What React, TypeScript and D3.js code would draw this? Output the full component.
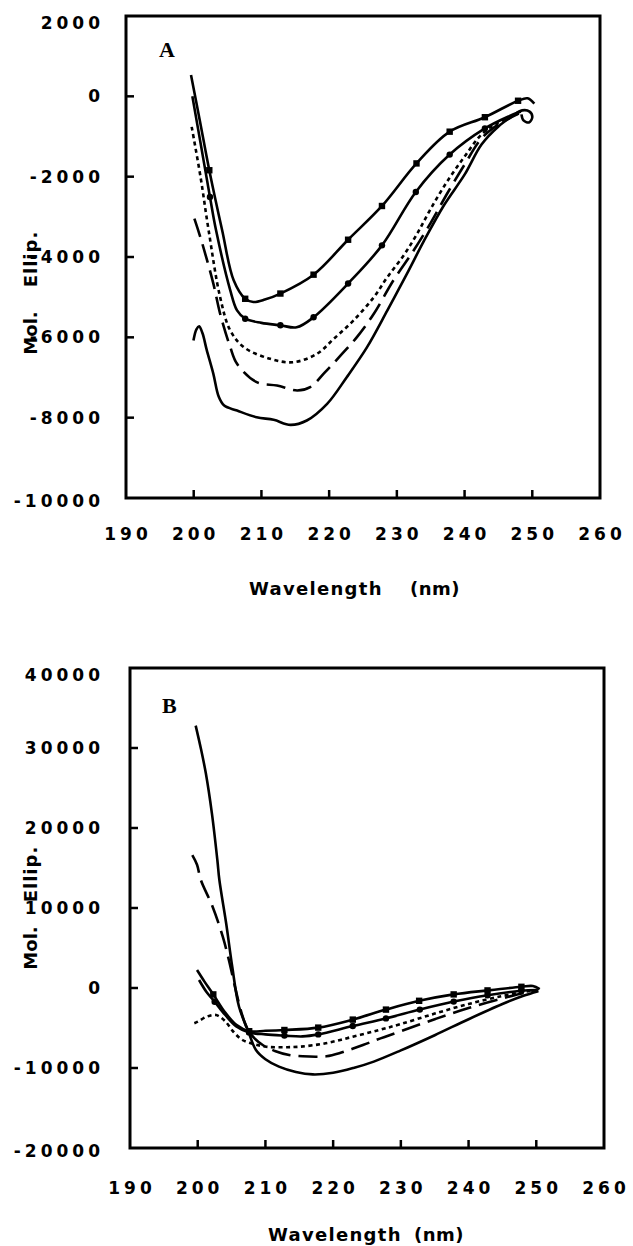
import React from "react";
import * as d3 from "d3";

// ---------- data ----------
const xTicks = [190, 200, 210, 220, 230, 240, 250, 260];
const yTicksA = [2000, 0, -2000, -4000, -6000, -8000, -10000];
const yTicksB = [40000, 30000, 20000, 10000, 0, -10000, -20000];

// [wavelength, mol. ellipticity, marker]
const aSquare: number[][] = [
  [199.6, 530, 0], [200.9, -600, 0], [202.3, -1840, 1], [204.2, -3335, 0], [205.9, -4580, 0],
  [207.6, -5040, 1], [208.8, -5120, 0], [210.5, -5060, 0], [212.8, -4910, 1], [217.7, -4440, 1],
  [222.8, -3570, 1], [227.8, -2730, 1], [232.9, -1670, 1], [237.8, -880, 1], [243, -520, 1],
  [247.9, -110, 1], [249.3, -50, 0], [250.3, -180, 0],
];
const aCircle: number[][] = [
  [199.8, 0, 0], [201.1, -1250, 0], [202.4, -2505, 1], [203.3, -3335, 0], [205.4, -4830, 0],
  [206.4, -5330, 0], [207.6, -5536, 1], [210, -5640, 0], [212.8, -5700, 1], [215.2, -5750, 0],
  [217.7, -5500, 1], [222.8, -4660, 1], [227.8, -3710, 1], [232.8, -2380, 1], [237.8, -1450, 1],
  [243, -800, 1], [246.5, -500, 0], [248.3, -380, 0],
];
const aDotted: number[][] = [
  [199.7, -760], [201, -2000], [202.2, -3335], [203.9, -5000], [205.4, -5830], [207.4, -6245],
  [211.3, -6535], [214.7, -6620], [218.2, -6410], [220.7, -6035], [223.6, -5580], [226.6, -5000],
  [228.6, -4500], [231, -3960], [233, -3420], [235, -2800], [237.5, -2100], [240, -1500],
  [242.5, -950], [245, -650], [248, -420],
];
const aDashed: number[][] = [
  [200.1, -3045], [201.2, -3627], [202.9, -4663], [203.9, -5412], [205.4, -6245], [206.4, -6660],
  [209.3, -7117], [212.3, -7200], [215.3, -7324], [217.2, -7240], [219.4, -6868], [221.7, -6450],
  [224.1, -5995], [226.6, -5412], [229.5, -4580], [232.5, -3834], [235, -3150], [237.5, -2400],
  [240, -1700], [242.5, -1050], [245, -700], [248, -430],
];
const aSolid: number[][] = [
  [199.96, -6080], [200.4, -5800], [200.8, -5728], [201.3, -5900], [201.9, -6300], [202.9, -6910],
  [203.7, -7480], [204.5, -7700], [206.4, -7823], [209.3, -7990], [211.8, -8054], [214.3, -8180],
  [216.7, -8070], [219.7, -7656], [222.6, -6992], [225.6, -6245], [228.6, -5330], [231.5, -4415],
  [234, -3600], [237, -2700], [240, -1950], [242.5, -1200], [245, -750], [247, -500],
  [248.5, -350], [249.6, -380], [250, -520], [249.5, -650], [248.7, -600], [248.4, -450],
];

const bSquare: number[][] = [
  [199.9, 2250, 0], [201, 800, 0], [202.3, -800, 1], [204, -3000, 0], [205.7, -4600, 0],
  [207.6, -5400, 1], [210, -5350, 0], [212.8, -5250, 1], [217.8, -4950, 1], [222.9, -3950, 1],
  [227.8, -2700, 1], [232.7, -1600, 1], [237.8, -800, 1], [242.8, -300, 1], [247.8, 150, 1],
  [249.5, 250, 0], [250.5, -150, 0],
];
const bCircle: number[][] = [
  [200.2, 1000, 0], [201.3, -500, 0], [202.5, -1712, 1], [204, -3300, 0], [205.7, -4800, 0],
  [207.6, -5550, 1], [210, -5800, 0], [212.8, -5950, 1], [215.5, -6050, 0], [217.8, -5800, 1],
  [222.9, -4750, 1], [227.8, -3800, 1], [232.8, -2700, 1], [237.8, -1700, 1], [242.8, -900, 1],
  [247.8, -350, 1], [250, -250, 0],
];
const bDotted: number[][] = [
  [199.5, -4400], [200, -4210], [201.3, -3600], [202.7, -3375], [204, -4100], [205.3, -5500],
  [206.6, -6500], [208.3, -7000], [210.1, -7340], [212.5, -7400], [215, -7340], [218.9, -6910],
  [222.9, -6090], [226.8, -5250], [230, -4500], [235, -3200], [240, -2000], [245, -1000],
  [248.5, -450], [250.2, -300],
];
const bDashed: number[][] = [
  [199.2, 16600], [199.9, 15400], [200.46, 13500], [202.2, 10160], [203.7, 6410], [204.6, 3500],
  [205.6, -200], [206.5, -3200], [207.4, -5250], [208.4, -6300], [209.6, -7125], [211.5, -7900],
  [213.5, -8375], [215.5, -8540], [217.5, -8600], [219, -8540], [220.9, -8160], [224.4, -7125],
  [227, -6300], [230, -5400], [235, -3900], [240, -2500], [245, -1300], [248.5, -550], [250.3, -300],
];
const bSolid: number[][] = [
  [199.7, 32800], [200.5, 29800], [201.2, 26840], [202.1, 21800], [202.9, 16000], [203.2, 13500],
  [204.2, 8090], [205.1, 2660], [206.1, -2340], [207.4, -5250], [208.6, -7750], [210, -8900],
  [212, -9830], [214.5, -10500], [217, -10800], [220, -10600], [223, -10000], [226, -9200],
  [230, -7800], [235, -5900], [240, -3900], [245, -2000], [248, -1000], [250.3, -400],
];

const FONT = "'DejaVu Sans', Verdana, sans-serif";

type Series = { data: number[][]; dash?: string; marker?: "square" | "circle" };

type PanelProps = {
  letter: string;
  letterPos: [number, number];
  xRange: [number, number];
  yDomain: [number, number];
  yRange: [number, number];
  yTicks: number[];
  series: Series[];
  xLabelY: number;
  titleY: number;
  wlX: number;
  nmX: number;
  molY: number;
  ellipY: number;
};

function Panel(p: PanelProps) {
  const x = d3.scaleLinear().domain([190, 260]).range(p.xRange);
  const y = d3.scaleLinear().domain(p.yDomain).range(p.yRange);
  const line = d3
    .line<number[]>()
    .x((d) => x(d[0]))
    .y((d) => y(d[1]))
    .curve(d3.curveCatmullRom.alpha(0.5));
  const x0 = x(190), x1 = x(260);
  const yTop = Math.min(...p.yRange), yBot = Math.max(...p.yRange);
  const yMax = Math.max(...p.yDomain), yMin = Math.min(...p.yDomain);
  return (
    <g>
      <rect x={x0} y={yTop} width={x1 - x0} height={yBot - yTop} fill="none" stroke="#000" strokeWidth={3} />
      {p.yTicks.filter((t) => t !== yMax && t !== yMin).map((t) => (
        <line key={"yt" + t} x1={x0} x2={x0 + 8} y1={y(t)} y2={y(t)} stroke="#000" strokeWidth={2.5} />
      ))}
      {xTicks.filter((t) => t !== 190 && t !== 260).map((t) => (
        <line key={"xt" + t} x1={x(t)} x2={x(t)} y1={yBot} y2={yBot - 8} stroke="#000" strokeWidth={2.5} />
      ))}
      {p.yTicks.map((t) => {
        let ty = y(t);
        if (t === yMax) ty = ty + 7;
        if (t === yMin) ty = ty + 3;
        return (
          <text key={"yl" + t} x={104} y={ty} textAnchor="end" dominantBaseline="central"
            fontFamily={FONT} fontWeight="bold" fontSize={17} letterSpacing={4}>
            {t}
          </text>
        );
      })}
      {xTicks.map((t) => (
        <text key={"xl" + t} x={x(t) + 2} y={p.xLabelY} textAnchor="middle"
          fontFamily={FONT} fontWeight="bold" fontSize={17} letterSpacing={4}>
          {t}
        </text>
      ))}
      <text x={p.wlX} y={p.titleY} fontFamily={FONT} fontWeight="bold" fontSize={18} letterSpacing={1.3}>Wavelength</text>
      <text x={p.nmX} y={p.titleY} fontFamily={FONT} fontWeight="bold" fontSize={18} letterSpacing={0.5}>(nm)</text>
      <text transform={`translate(37,${p.molY}) rotate(-90)`} textAnchor="middle" fontFamily={FONT} fontWeight="bold" fontSize={18}>Mol.</text>
      <text transform={`translate(37,${p.ellipY}) rotate(-90)`} textAnchor="middle" fontFamily={FONT} fontWeight="bold" fontSize={18} letterSpacing={1}>Ellip.</text>
      <text x={p.letterPos[0]} y={p.letterPos[1]} fontFamily="'Liberation Serif', 'Times New Roman', serif" fontWeight="bold" fontSize={22}>{p.letter}</text>
      {p.series.map((s, i) => (
        <g key={"s" + i}>
          <path d={line(s.data) || ""} fill="none" stroke="#000" strokeWidth={2.6}
            strokeDasharray={s.dash} strokeLinejoin="round" />
          {s.marker &&
            s.data.filter((d) => d[2] === 1).map((d, j) =>
              s.marker === "square" ? (
                <rect key={j} x={x(d[0]) - 3.2} y={y(d[1]) - 3.2} width={6.4} height={6.4} fill="#000" />
              ) : (
                <circle key={j} cx={x(d[0])} cy={y(d[1])} r={3.2} fill="#000" />
              )
            )}
        </g>
      ))}
    </g>
  );
}

export default function App() {
  return (
    <svg width={633} height={1246} style={{ position: "absolute", left: 0, top: 0, background: "#fff" }}>
      <rect width={633} height={1246} fill="#fff" />
      <Panel
        letter="A" letterPos={[159, 57]}
        xRange={[126, 600]} yDomain={[-10000, 2000]} yRange={[498, 16]} yTicks={yTicksA}
        series={[
          { data: aSquare, marker: "square" },
          { data: aCircle, marker: "circle" },
          { data: aDotted, dash: "4,3.5" },
          { data: aDashed, dash: "19,8" },
          { data: aSolid },
        ]}
        xLabelY={540} titleY={595} wlX={249} nmX={410} molY={333} ellipY={259}
      />
      <Panel
        letter="B" letterPos={[162, 713]}
        xRange={[130, 604]} yDomain={[-20000, 40000]} yRange={[1148, 668]} yTicks={yTicksB}
        series={[
          { data: bSquare, marker: "square" },
          { data: bCircle, marker: "circle" },
          { data: bDotted, dash: "4,3.5" },
          { data: bDashed, dash: "19,8" },
          { data: bSolid },
        ]}
        xLabelY={1194} titleY={1241} wlX={268} nmX={414} molY={948} ellipY={874}
      />
    </svg>
  );
}
